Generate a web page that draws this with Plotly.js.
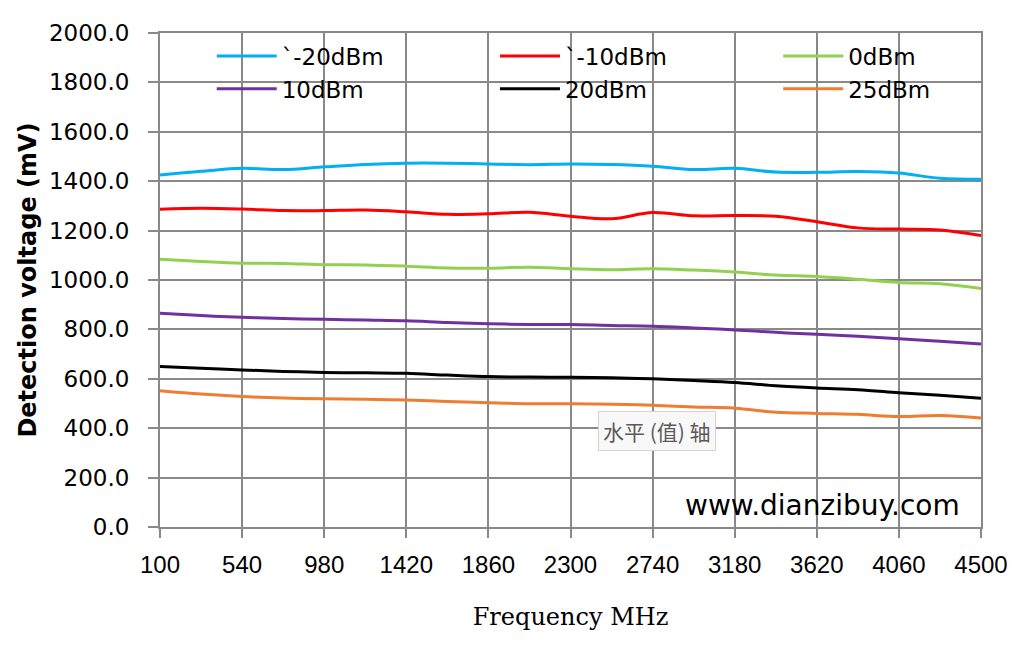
<!DOCTYPE html>
<html>
<head>
<meta charset="utf-8">
<script src="https://cdn.plot.ly/plotly-3.0.1.min.js"></script>
<style>
  html, body { margin: 0; padding: 0; background: #fff; }
  #chart { width: 1025px; height: 647px; }
</style>
</head>
<body>
<div id="chart"></div>
<script>
// frequency points (MHz)
let freq = [100, 320, 540, 760, 980, 1200, 1420, 1640, 1860, 2080, 2300,
            2520, 2740, 2960, 3180, 3400, 3620, 3840, 4060, 4280, 4500];

// detection voltage (mV) per input power
let v_m20 = [1425, 1440, 1452, 1447, 1458, 1468, 1473, 1473, 1470, 1467, 1470,
             1468, 1461, 1447, 1452, 1437, 1436, 1439, 1433, 1412, 1408];
let v_m10 = [1286, 1290, 1287, 1281, 1281, 1283, 1276, 1266, 1268, 1274, 1258,
             1248, 1273, 1260, 1261, 1258, 1236, 1211, 1206, 1202, 1180];
let v_0   = [1084, 1075, 1068, 1067, 1062, 1061, 1056, 1049, 1048, 1052, 1046,
             1042, 1046, 1040, 1032, 1020, 1014, 1003, 990, 985, 966];
let v_10  = [865, 856, 849, 844, 841, 838, 835, 828, 823, 820, 820,
             816, 813, 806, 798, 788, 780, 772, 762, 752, 741];
let v_20  = [650, 643, 636, 630, 626, 624, 622, 615, 609, 607, 606,
             604, 600, 593, 585, 572, 563, 556, 544, 533, 521];
let v_25  = [552, 538, 528, 522, 519, 517, 514, 508, 503, 499, 499,
             497, 493, 486, 481, 465, 460, 456, 447, 451, 441];

let names = ["`-20dBm", "`-10dBm", "0dBm", "10dBm", "20dBm", "25dBm"];
let colors = ["#00B0F0", "#FF0000", "#92D050", "#7030A0", "#000000", "#ED7D31"];
let series = [v_m20, v_m10, v_0, v_10, v_20, v_25];
// legend column each series goes into
let legend_ids = ["legend", "legend2", "legend3", "legend", "legend2", "legend3"];

let data = series.map((ys, i) => ({
  x: freq,
  y: ys,
  name: names[i],
  type: "scatter",
  mode: "lines",
  line: {color: colors[i], width: 3, shape: "spline", smoothing: 1},
  legend: legend_ids[i],
  hovertemplate: "%{x} MHz<br>%{y} mV",
}));

let grid = "#898989";
let legend_base = {
  orientation: "v",
  xanchor: "left",
  yanchor: "top",
  y: 0.997,
  bgcolor: "rgba(0,0,0,0)",
  font: {family: "DejaVu Sans", size: 23, color: "#000"},
  itemwidth: 60,
  tracegroupgap: 0,
};

let layout = {
  width: 1025,
  height: 647,
  margin: {l: 160, r: 44, t: 33, b: 120},
  paper_bgcolor: "#fff",
  plot_bgcolor: "#fff",
  showlegend: true,
  xaxis: {
    range: [100, 4500],
    tickmode: "linear",
    tick0: 100,
    dtick: 440,
    showgrid: true,
    gridcolor: grid,
    gridwidth: 2,
    showline: true,
    linecolor: grid,
    linewidth: 2,
    mirror: true,
    ticks: "outside",
    ticklen: 9,
    tickwidth: 2,
    tickcolor: grid,
    ticklabelstandoff: 6,
    tickfont: {family: "Liberation Sans", size: 24, color: "#000"},
    zeroline: false,
    title: {
      text: "Frequency MHz",
      font: {family: "DejaVu Serif", size: 24, color: "#000"},
      standoff: 31,
    },
  },
  yaxis: {
    range: [0, 2000],
    dtick: 200,
    tickformat: ".1f",
    showgrid: true,
    gridcolor: grid,
    gridwidth: 2,
    showline: true,
    linecolor: grid,
    linewidth: 2,
    mirror: true,
    ticks: "outside",
    ticklen: 10,
    tickwidth: 2,
    tickcolor: grid,
    ticklabelstandoff: 14,
    tickfont: {family: "DejaVu Sans", size: 23, color: "#000"},
    zeroline: false,
    title: {
      text: "Detection voltage (mV)",
      font: {family: "DejaVu Sans", size: 24, color: "#000", weight: "bold"},
      standoff: 6,
    },
  },
  legend: Object.assign({}, legend_base, {x: 0.063}),
  legend2: Object.assign({}, legend_base, {x: 0.408}),
  legend3: Object.assign({}, legend_base, {x: 0.753}),
  annotations: [
    {
      text: "www.dianzibuy.com",
      xref: "paper", yref: "paper",
      x: 0.8075, y: 0.0445,
      xanchor: "center", yanchor: "middle",
      showarrow: false,
      font: {family: "DejaVu Sans", size: 28, color: "#000"},
    },
    {
      text: "水平 (值) 轴",
      xref: "paper", yref: "paper",
      x: 0.605, y: 0.194,
      xanchor: "center", yanchor: "middle",
      showarrow: false,
      bgcolor: "#f8f8f8",
      bordercolor: "#d4d4d4",
      borderwidth: 1,
      borderpad: 4,
      font: {family: "Noto Sans CJK SC", size: 21, color: "#5a5a5a"},
    },
  ],
};

Plotly.newPlot("chart", data, layout, {
  displaylogo: false,
  displayModeBar: false,
});
</script>
</body>
</html>
